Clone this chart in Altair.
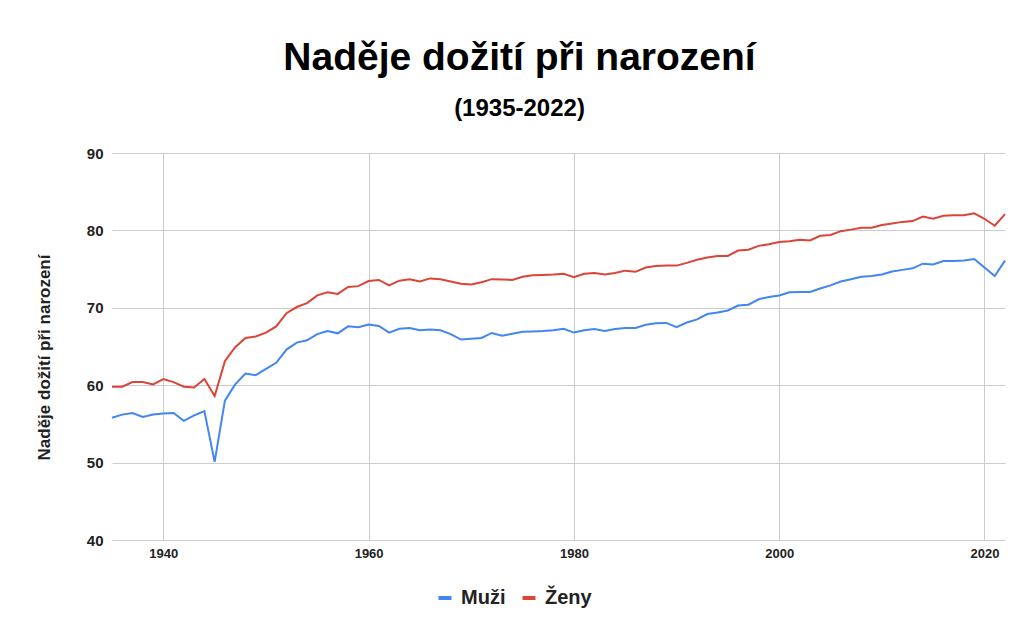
import altair as alt
import pandas as pd

years = list(range(1935, 2023))

muzi = [55.8, 56.2, 56.4, 55.9, 56.2, 56.35, 56.4, 55.4, 56.1, 56.65,
        50.1, 58.0, 60.1, 61.5, 61.3, 62.1, 62.9, 64.6, 65.5, 65.8,
        66.6, 67.0, 66.7, 67.6, 67.5, 67.85, 67.65, 66.8, 67.3, 67.4,
        67.1, 67.2, 67.1, 66.6, 65.9, 66.0, 66.1, 66.75, 66.4, 66.65,
        66.9, 66.95, 67.0, 67.1, 67.3, 66.8, 67.1, 67.25, 67.0, 67.25,
        67.4, 67.4, 67.8, 68.0, 68.05, 67.5, 68.1, 68.5, 69.2, 69.4,
        69.65, 70.3, 70.4, 71.1, 71.4, 71.6, 72.0, 72.05, 72.05, 72.5,
        72.9, 73.4, 73.7, 74.0, 74.1, 74.3, 74.7, 74.9, 75.1, 75.7,
        75.6, 76.05, 76.05, 76.1, 76.3, 75.2, 74.1, 76.1]

zeny = [59.8, 59.8, 60.4, 60.4, 60.1, 60.8, 60.4, 59.8, 59.7, 60.8,
        58.6, 63.1, 64.9, 66.1, 66.3, 66.8, 67.6, 69.3, 70.1, 70.6,
        71.6, 72.0, 71.8, 72.7, 72.8, 73.45, 73.6, 72.9, 73.5, 73.7,
        73.4, 73.8, 73.7, 73.4, 73.1, 73.0, 73.3, 73.7, 73.65, 73.6,
        74.0, 74.2, 74.25, 74.3, 74.4, 73.95, 74.4, 74.5, 74.3, 74.5,
        74.8, 74.65, 75.2, 75.4, 75.45, 75.45, 75.8, 76.2, 76.5, 76.7,
        76.7, 77.4, 77.5, 78.0, 78.2, 78.5, 78.6, 78.8, 78.7, 79.3,
        79.4, 79.9, 80.1, 80.35, 80.35, 80.7, 80.9, 81.1, 81.2, 81.8,
        81.5, 81.9, 81.95, 81.95, 82.2, 81.5, 80.6, 82.1]

series_names = ["Muži", "Ženy"]
series_colors = ["#4285F4", "#DB4437"]
x_ticks = [1940, 1960, 1980, 2000, 2020]
y_ticks = [40, 50, 60, 70, 80, 90]

rows = []
for name, vals in zip(series_names, [muzi, zeny]):
    for yr, v in zip(years, vals):
        rows.append({"rok": yr, "hodnota": v, "pohlaví": name})
df = pd.DataFrame(rows)

FONT = "Liberation Sans"

chart = alt.Chart(df).mark_line(strokeWidth=2).encode(
    x=alt.X("rok:Q",
            scale=alt.Scale(domain=[1935, 2022], nice=False, zero=False),
            axis=alt.Axis(values=x_ticks, format="d", title=None, grid=True,
                          gridColor="#cccccc", domain=False, ticks=False,
                          labelFont=FONT, labelFontSize=13, labelFontWeight="bold",
                          labelColor="#222222", labelPadding=7)),
    y=alt.Y("hodnota:Q",
            scale=alt.Scale(domain=[40, 90], nice=False, zero=False),
            axis=alt.Axis(values=y_ticks, title="Naděje dožití při narození",
                          grid=True, gridColor="#cccccc", domain=False, ticks=False,
                          labelFont=FONT, labelFontSize=15, labelFontWeight="bold",
                          labelColor="#222222", labelPadding=9,
                          titleFont=FONT, titleFontSize=17, titleFontWeight="bold",
                          titleColor="#222222", titleX=-68, titleY=204,
                          titleBaseline="middle", titleAngle=270)),
    color=alt.Color("pohlaví:N",
                    scale=alt.Scale(domain=series_names, range=series_colors),
                    legend=alt.Legend(title=None, orient="none", direction="horizontal",
                                      legendX=323, legendY=435, padding=0,
                                      symbolType="stroke", symbolStrokeWidth=4,
                                      symbolSize=169, labelOffset=6, columnPadding=8,
                                      labelFont=FONT, labelFontSize=20,
                                      labelFontWeight="bold", labelColor="#222222")),
).properties(
    width=893,
    height=387,
    autosize=alt.AutoSizeParams(type="none"),
    padding={"left": 104, "top": 145, "right": 17, "bottom": 88},
    title=alt.TitleParams(
        text="Naděje dožití při narození",
        subtitle="(1935-2022)",
        anchor="middle",
        dx=-39,
        font=FONT, fontSize=39, fontWeight="bold", color="#000000",
        subtitleFont=FONT, subtitleFontSize=24, subtitleFontWeight="bold",
        subtitleColor="#000000", subtitlePadding=19, offset=25,
    ),
).configure_view(stroke=None)

chart.save("out.html", embed_options={"renderer": "svg", "actions": False})
